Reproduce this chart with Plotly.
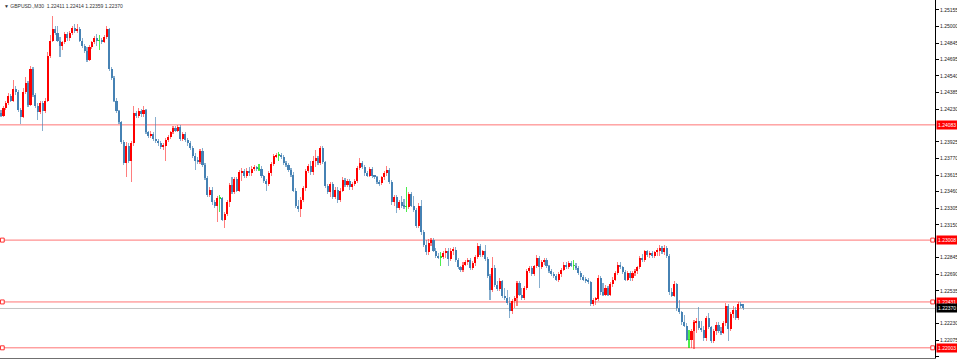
import plotly.graph_objects as go

# ---- data (GBPUSD M30 candles) ----
opens = [
    1.2419, 1.2417, 1.2424, 1.2429, 1.2435, 1.2431, 1.2442, 1.2439, 1.2422, 1.2416,
    1.2439, 1.2447, 1.2427, 1.2460, 1.2436, 1.2426, 1.2420, 1.2429, 1.2421, 1.2431,
    1.2473, 1.2487, 1.2498, 1.2494, 1.2487, 1.2482, 1.2486, 1.2493, 1.2489, 1.2494,
    1.2499, 1.2496, 1.2498, 1.2487, 1.2482, 1.2477, 1.2469, 1.2481, 1.2486, 1.2489,
    1.2487, 1.2487, 1.2486, 1.2490, 1.2498, 1.2460, 1.2452, 1.2431, 1.2421, 1.2411,
    1.2392, 1.2373, 1.2389, 1.2375, 1.2391, 1.2419, 1.2417, 1.2421, 1.2418, 1.2422,
    1.2402, 1.2398, 1.2400, 1.2395, 1.2393, 1.2391, 1.2388, 1.2389, 1.2394, 1.2397,
    1.2402, 1.2405, 1.2403, 1.2406, 1.2395, 1.2400, 1.2394, 1.2391, 1.2387, 1.2379,
    1.2375, 1.2374, 1.2384, 1.2371, 1.2359, 1.2343, 1.2348, 1.2336, 1.2333, 1.2340,
    1.2340, 1.2320, 1.2325, 1.2336, 1.2352, 1.2346, 1.2358, 1.2347, 1.2364, 1.2365,
    1.2361, 1.2365, 1.2363, 1.2367, 1.2369, 1.2367, 1.2367, 1.2361, 1.2356, 1.2353,
    1.2363, 1.2372, 1.2379, 1.2380, 1.2380, 1.2378, 1.2373, 1.2371, 1.2366, 1.2362,
    1.2347, 1.2333, 1.2330, 1.2338, 1.2349, 1.2365, 1.2370, 1.2364, 1.2375, 1.2377,
    1.2373, 1.2387, 1.2374, 1.2351, 1.2346, 1.2353, 1.2341, 1.2348, 1.2338, 1.2347,
    1.2357, 1.2352, 1.2356, 1.2350, 1.2353, 1.2356, 1.2368, 1.2373, 1.2369, 1.2363,
    1.2361, 1.2367, 1.2361, 1.2360, 1.2355, 1.2354, 1.2360, 1.2363, 1.2366, 1.2355,
    1.2336, 1.2341, 1.2331, 1.2336, 1.2333, 1.2332, 1.2332, 1.2344, 1.2333, 1.2329,
    1.2314, 1.2333, 1.2308, 1.2296, 1.2290, 1.2298, 1.2301, 1.2291, 1.2286, 1.2285,
    1.2285, 1.2289, 1.2291, 1.2283, 1.2291, 1.2292, 1.2282, 1.2276, 1.2273, 1.2278,
    1.2280, 1.2282, 1.2275, 1.2279, 1.2285, 1.2295, 1.2287, 1.2291, 1.2283, 1.2267,
    1.2254, 1.2275, 1.2259, 1.2255, 1.2263, 1.2249, 1.2247, 1.2242, 1.2235, 1.2244,
    1.2247, 1.2261, 1.2250, 1.2247, 1.2256, 1.2272, 1.2275, 1.2269, 1.2277, 1.2284,
    1.2276, 1.2280, 1.2282, 1.2277, 1.2272, 1.2269, 1.2267, 1.2264, 1.2269, 1.2273,
    1.2278, 1.2276, 1.2279, 1.2277, 1.2277, 1.2275, 1.2270, 1.2266, 1.2264, 1.2263,
    1.2262, 1.2241, 1.2245, 1.2246, 1.2265, 1.2252, 1.2250, 1.2256, 1.2250, 1.2260,
    1.2264, 1.2270, 1.2278, 1.2276, 1.2271, 1.2264, 1.2270, 1.2265, 1.2270, 1.2272,
    1.2276, 1.2284, 1.2282, 1.2291, 1.2287, 1.2289, 1.2286, 1.2290, 1.2291, 1.2293,
    1.2290, 1.2293, 1.2286, 1.2252, 1.2249, 1.2260, 1.2237, 1.2234, 1.2224, 1.2221,
    1.2208, 1.2208, 1.2216, 1.2224, 1.2225, 1.2219, 1.2217, 1.2209, 1.2228, 1.2220,
    1.2207, 1.2216, 1.2222, 1.2216, 1.2214, 1.2223, 1.2239, 1.2218, 1.2232, 1.2236,
    1.2228, 1.2241, 1.22411,
]
highs = [
    1.2422, 1.2426, 1.2431, 1.2438, 1.2437, 1.2450, 1.2445, 1.2441, 1.2424, 1.2443,
    1.2453, 1.2449, 1.2463, 1.2462, 1.2438, 1.2429, 1.2431, 1.2431, 1.2433, 1.2476,
    1.2492, 1.2510, 1.2501, 1.2501, 1.2490, 1.2487, 1.2495, 1.2495, 1.2496, 1.2501,
    1.2502, 1.2502, 1.2500, 1.2489, 1.2484, 1.2481, 1.2483, 1.2487, 1.2491, 1.2493,
    1.2492, 1.2489, 1.2492, 1.2501, 1.2499, 1.2462, 1.2454, 1.2433, 1.2422, 1.2412,
    1.2394, 1.2392, 1.2391, 1.2393, 1.2426, 1.2421, 1.2424, 1.2423, 1.2426, 1.2423,
    1.2403, 1.2403, 1.2402, 1.2416, 1.2395, 1.2393, 1.2391, 1.2396, 1.2399, 1.2403,
    1.2407, 1.2407, 1.2408, 1.2408, 1.2402, 1.2402, 1.2396, 1.2393, 1.2389, 1.2382,
    1.2378, 1.2386, 1.2387, 1.2373, 1.2361, 1.2350, 1.2350, 1.2338, 1.2342, 1.2343,
    1.2341, 1.2327, 1.2338, 1.2354, 1.2360, 1.2360, 1.2360, 1.2366, 1.2368, 1.2367,
    1.2368, 1.2369, 1.2370, 1.2371, 1.2370, 1.2372, 1.2370, 1.2362, 1.2358, 1.2365,
    1.2374, 1.2381, 1.2382, 1.2383, 1.2382, 1.2380, 1.2375, 1.2373, 1.2368, 1.2364,
    1.2349, 1.2338, 1.2341, 1.2351, 1.2367, 1.2372, 1.2375, 1.2379, 1.2385, 1.2379,
    1.2389, 1.2389, 1.2375, 1.2353, 1.2355, 1.2355, 1.2350, 1.2350, 1.2349, 1.2360,
    1.2359, 1.2358, 1.2358, 1.2355, 1.2358, 1.2370, 1.2377, 1.2375, 1.2371, 1.2365,
    1.2369, 1.2369, 1.2362, 1.2361, 1.2357, 1.2361, 1.2365, 1.2370, 1.2368, 1.2357,
    1.2343, 1.2343, 1.2338, 1.2342, 1.2339, 1.2350, 1.2346, 1.2346, 1.2342, 1.2331,
    1.2335, 1.2338, 1.2310, 1.2301, 1.2302, 1.2303, 1.2303, 1.2293, 1.2289, 1.2290,
    1.2291, 1.2293, 1.2293, 1.2293, 1.2294, 1.2294, 1.2284, 1.2277, 1.2280, 1.2282,
    1.2284, 1.2284, 1.2281, 1.2287, 1.2298, 1.2297, 1.2292, 1.2296, 1.2285, 1.2269,
    1.2285, 1.2278, 1.2263, 1.2265, 1.2264, 1.2256, 1.2254, 1.2248, 1.2246, 1.2249,
    1.2263, 1.2263, 1.2256, 1.2258, 1.2274, 1.2277, 1.2277, 1.2278, 1.2287, 1.2286,
    1.2282, 1.2284, 1.2284, 1.2278, 1.2274, 1.2271, 1.2269, 1.2271, 1.2275, 1.2280,
    1.2280, 1.2281, 1.2281, 1.2282, 1.2279, 1.2277, 1.2272, 1.2268, 1.2266, 1.2265,
    1.2263, 1.2247, 1.2248, 1.2268, 1.2267, 1.2261, 1.2259, 1.2258, 1.2262, 1.2266,
    1.2272, 1.2280, 1.2280, 1.2277, 1.2273, 1.2272, 1.2272, 1.2272, 1.2274, 1.2277,
    1.2286, 1.2288, 1.2292, 1.2292, 1.2291, 1.2291, 1.2291, 1.2293, 1.2296, 1.2295,
    1.2296, 1.2295, 1.2288, 1.2256, 1.2263, 1.2261, 1.2245, 1.2235, 1.2231, 1.2223,
    1.2217, 1.2218, 1.2226, 1.2228, 1.2238, 1.2225, 1.2221, 1.2230, 1.2233, 1.2221,
    1.2218, 1.2224, 1.2224, 1.2220, 1.2225, 1.2242, 1.2241, 1.2234, 1.2239, 1.2238,
    1.2243, 1.2243, 1.22414,
]
lows = [
    1.2416, 1.2416, 1.2422, 1.2427, 1.2430, 1.2430, 1.2436, 1.2420, 1.2409, 1.2415,
    1.2437, 1.2425, 1.2426, 1.2434, 1.2424, 1.2413, 1.2418, 1.2403, 1.2419, 1.2430,
    1.2471, 1.2486, 1.2492, 1.2486, 1.2472, 1.2478, 1.2484, 1.2487, 1.2487, 1.2492,
    1.2494, 1.2494, 1.2486, 1.2480, 1.2475, 1.2467, 1.2468, 1.2479, 1.2484, 1.2482,
    1.2478, 1.2484, 1.2485, 1.2488, 1.2459, 1.2450, 1.2430, 1.2419, 1.2409, 1.2390,
    1.2371, 1.2360, 1.2373, 1.2355, 1.2389, 1.2415, 1.2415, 1.2416, 1.2416, 1.2400,
    1.2396, 1.2396, 1.2393, 1.2391, 1.2389, 1.2386, 1.2385, 1.2375, 1.2392, 1.2395,
    1.2400, 1.2402, 1.2402, 1.2393, 1.2393, 1.2392, 1.2389, 1.2385, 1.2377, 1.2366,
    1.2372, 1.2372, 1.2369, 1.2357, 1.2341, 1.2341, 1.2334, 1.2331, 1.2318, 1.2327,
    1.2319, 1.2312, 1.2323, 1.2332, 1.2344, 1.2344, 1.2346, 1.2346, 1.2356, 1.2359,
    1.2359, 1.2361, 1.2361, 1.2365, 1.2365, 1.2365, 1.2359, 1.2354, 1.2347, 1.2351,
    1.2361, 1.2370, 1.2377, 1.2375, 1.2376, 1.2371, 1.2369, 1.2364, 1.2360, 1.2346,
    1.2331, 1.2327, 1.2322, 1.2336, 1.2347, 1.2363, 1.2362, 1.2362, 1.2369, 1.2371,
    1.2371, 1.2372, 1.2349, 1.2344, 1.2341, 1.2339, 1.2339, 1.2335, 1.2336, 1.2346,
    1.2350, 1.2350, 1.2348, 1.2348, 1.2351, 1.2354, 1.2366, 1.2367, 1.2361, 1.2360,
    1.2360, 1.2359, 1.2358, 1.2353, 1.2351, 1.2352, 1.2357, 1.2361, 1.2353, 1.2334,
    1.2333, 1.2326, 1.2329, 1.2331, 1.2330, 1.2327, 1.2330, 1.2332, 1.2327, 1.2312,
    1.2312, 1.2306, 1.2294, 1.2287, 1.2287, 1.2295, 1.2290, 1.2284, 1.2283, 1.2277,
    1.2283, 1.2284, 1.2277, 1.2281, 1.2287, 1.2280, 1.2274, 1.2271, 1.2271, 1.2277,
    1.2278, 1.2273, 1.2273, 1.2277, 1.2283, 1.2285, 1.2285, 1.2281, 1.2265, 1.2245,
    1.2252, 1.2257, 1.2253, 1.2253, 1.2247, 1.2245, 1.2240, 1.2228, 1.2232, 1.2237,
    1.2239, 1.2249, 1.2245, 1.2245, 1.2254, 1.2270, 1.2267, 1.2267, 1.2275, 1.2256,
    1.2274, 1.2278, 1.2275, 1.2270, 1.2267, 1.2265, 1.2263, 1.2262, 1.2266, 1.2272,
    1.2274, 1.2274, 1.2276, 1.2273, 1.2273, 1.2268, 1.2264, 1.2263, 1.2261, 1.2260,
    1.2239, 1.2239, 1.2240, 1.2244, 1.2250, 1.2249, 1.2249, 1.2249, 1.2249, 1.2257,
    1.2263, 1.2268, 1.2274, 1.2269, 1.2263, 1.2263, 1.2263, 1.2263, 1.2267, 1.2269,
    1.2274, 1.2280, 1.2280, 1.2285, 1.2284, 1.2284, 1.2284, 1.2286, 1.2286, 1.2288,
    1.2287, 1.2284, 1.2250, 1.2248, 1.2248, 1.2235, 1.2232, 1.2222, 1.2220, 1.2207,
    1.2200, 1.2200, 1.2199, 1.2214, 1.2217, 1.2215, 1.2207, 1.2207, 1.2218, 1.2205,
    1.2205, 1.2212, 1.2214, 1.2212, 1.2213, 1.2221, 1.2207, 1.2216, 1.2228, 1.2226,
    1.2226, 1.2237, 1.22359,
]
closes = [
    1.2417, 1.2424, 1.2429, 1.2435, 1.2431, 1.2442, 1.2439, 1.2422, 1.2416, 1.2439,
    1.2447, 1.2427, 1.2460, 1.2436, 1.2426, 1.2420, 1.2429, 1.2421, 1.2431, 1.2473,
    1.2487, 1.2498, 1.2494, 1.2487, 1.2482, 1.2486, 1.2493, 1.2489, 1.2494, 1.2499,
    1.2496, 1.2498, 1.2487, 1.2482, 1.2477, 1.2469, 1.2481, 1.2486, 1.2489, 1.2487,
    1.2487, 1.2486, 1.2490, 1.2498, 1.2460, 1.2452, 1.2431, 1.2421, 1.2411, 1.2392,
    1.2373, 1.2389, 1.2375, 1.2391, 1.2419, 1.2417, 1.2421, 1.2418, 1.2422, 1.2402,
    1.2398, 1.2400, 1.2395, 1.2393, 1.2391, 1.2388, 1.2389, 1.2394, 1.2397, 1.2402,
    1.2405, 1.2403, 1.2406, 1.2395, 1.2400, 1.2394, 1.2391, 1.2387, 1.2379, 1.2375,
    1.2374, 1.2384, 1.2371, 1.2359, 1.2343, 1.2348, 1.2336, 1.2333, 1.2340, 1.2340,
    1.2320, 1.2325, 1.2336, 1.2352, 1.2346, 1.2358, 1.2347, 1.2364, 1.2365, 1.2361,
    1.2365, 1.2363, 1.2367, 1.2369, 1.2367, 1.2367, 1.2361, 1.2356, 1.2353, 1.2363,
    1.2372, 1.2379, 1.2380, 1.2380, 1.2378, 1.2373, 1.2371, 1.2366, 1.2362, 1.2347,
    1.2333, 1.2330, 1.2338, 1.2349, 1.2365, 1.2370, 1.2364, 1.2375, 1.2377, 1.2373,
    1.2387, 1.2374, 1.2351, 1.2346, 1.2353, 1.2341, 1.2348, 1.2338, 1.2347, 1.2357,
    1.2352, 1.2356, 1.2350, 1.2353, 1.2356, 1.2368, 1.2373, 1.2369, 1.2363, 1.2361,
    1.2367, 1.2361, 1.2360, 1.2355, 1.2354, 1.2360, 1.2363, 1.2366, 1.2355, 1.2336,
    1.2341, 1.2331, 1.2336, 1.2333, 1.2332, 1.2332, 1.2344, 1.2333, 1.2329, 1.2314,
    1.2333, 1.2308, 1.2296, 1.2290, 1.2298, 1.2301, 1.2291, 1.2286, 1.2285, 1.2285,
    1.2289, 1.2291, 1.2283, 1.2291, 1.2292, 1.2282, 1.2276, 1.2273, 1.2278, 1.2280,
    1.2282, 1.2275, 1.2279, 1.2285, 1.2295, 1.2287, 1.2291, 1.2283, 1.2267, 1.2254,
    1.2275, 1.2259, 1.2255, 1.2263, 1.2249, 1.2247, 1.2242, 1.2235, 1.2244, 1.2247,
    1.2261, 1.2250, 1.2247, 1.2256, 1.2272, 1.2275, 1.2269, 1.2277, 1.2284, 1.2276,
    1.2280, 1.2282, 1.2277, 1.2272, 1.2269, 1.2267, 1.2264, 1.2269, 1.2273, 1.2278,
    1.2276, 1.2279, 1.2277, 1.2277, 1.2275, 1.2270, 1.2266, 1.2264, 1.2263, 1.2262,
    1.2241, 1.2245, 1.2246, 1.2265, 1.2252, 1.2250, 1.2256, 1.2250, 1.2260, 1.2264,
    1.2270, 1.2278, 1.2276, 1.2271, 1.2264, 1.2270, 1.2265, 1.2270, 1.2272, 1.2276,
    1.2284, 1.2282, 1.2291, 1.2287, 1.2289, 1.2286, 1.2290, 1.2291, 1.2293, 1.2290,
    1.2293, 1.2286, 1.2252, 1.2249, 1.2260, 1.2237, 1.2234, 1.2224, 1.2221, 1.2208,
    1.2208, 1.2216, 1.2224, 1.2225, 1.2219, 1.2217, 1.2209, 1.2228, 1.2220, 1.2207,
    1.2216, 1.2222, 1.2216, 1.2214, 1.2223, 1.2239, 1.2218, 1.2232, 1.2236, 1.2228,
    1.2241, 1.2239, 1.22370,
]
levels = [1.24083, 1.23008, 1.22431, 1.22003]
bid = 1.22370
tick_vals = [1.25155, 1.25000, 1.24845, 1.24695, 1.24540, 1.24385, 1.24230,
             1.23925, 1.23770, 1.23615, 1.23460, 1.23305, 1.23150, 1.22845,
             1.22690, 1.22535, 1.22230, 1.22075, 1.21920]
header = "▼ GBPUSD.,M30  1.22411 1.22414 1.22359 1.22370"

# ---- styling ----
UP, DN, DJ = "#FF0000", "#4682B4", "#2EE02E"
UPW, DNW, DJW = "rgba(255,40,40,0.6)", "rgba(70,130,180,0.65)", "rgba(0,230,0,0.7)"
FONT = "Liberation Sans"

n = len(closes)
xs = list(range(n))
body_base, body_h, body_col, wick_col = [], [], [], []
for o, c in zip(opens, closes):
    body_base.append(min(o, c))
    body_h.append(max(abs(c - o), 0.00004))
    if c > o:
        body_col.append(UP); wick_col.append(UPW)
    elif c < o:
        body_col.append(DN); wick_col.append(DNW)
    else:
        body_col.append(DJ); wick_col.append(DJW)
wick_h = [h - l for h, l in zip(highs, lows)]

fig = go.Figure()
fig.add_trace(go.Bar(x=xs, y=wick_h, base=lows, width=0.45,
                     marker=dict(color=wick_col, line=dict(width=0)),
                     hoverinfo="skip"))
fig.add_trace(go.Bar(x=xs, y=body_h, base=body_base, width=0.84,
                     marker=dict(color=body_col, line=dict(width=0)),
                     hoverinfo="skip"))

for lv in levels:
    fig.add_hline(y=lv, line=dict(color="rgba(255,0,0,0.55)", width=1), layer="below")
fig.add_hline(y=bid, line=dict(color="#C4C4C4", width=1), layer="below")

# small anchor squares at the ends of the level lines
px_price = (1.25248 - 1.21908) / 358
for lv in levels[1:]:
    for x0, x1 in [(0.0005, 0.0045), (0.9955, 0.9995)]:
        fig.add_shape(type="rect", xref="paper", yref="y", x0=x0, x1=x1,
                      y0=lv - 2 * px_price, y1=lv + 2 * px_price,
                      line=dict(color="rgba(255,0,0,0.8)", width=1),
                      fillcolor="white", layer="above")

for lv in levels:
    fig.add_annotation(x=1, xref="paper", xanchor="left", xshift=1, y=lv, yref="y",
                       text=f"{lv:.5f}", showarrow=False, bgcolor="#FF0000",
                       font=dict(color="white", size=5, family=FONT), borderpad=1)
fig.add_annotation(x=1, xref="paper", xanchor="left", xshift=1, y=bid, yref="y",
                   text=f"{bid:.5f}", showarrow=False, bgcolor="#000000",
                   font=dict(color="white", size=5, family=FONT), borderpad=1)

fig.add_annotation(x=0, y=1, xref="paper", yref="paper", xanchor="left", yanchor="top",
                   xshift=2, yshift=-1, text=header, showarrow=False,
                   font=dict(color="#333333", size=5, family=FONT))

fig.update_layout(
    width=957, height=359,
    margin=dict(l=0, r=22, t=0, b=1),
    plot_bgcolor="white", paper_bgcolor="white",
    barmode="overlay", showlegend=False, bargap=0,
)
fig.update_xaxes(range=[-0.41, 380.1], showticklabels=False, showgrid=False,
                 zeroline=False, showline=True, linecolor="#707070", linewidth=1,
                 ticks="", automargin=False, fixedrange=True)
fig.update_yaxes(side="right", range=[1.21908, 1.25248], tickvals=tick_vals,
                 ticktext=[f"{v:.5f}" for v in tick_vals], showgrid=False,
                 zeroline=False, showline=True, linecolor="black", linewidth=1,
                 ticks="outside", ticklen=3, tickcolor="black", tickwidth=1,
                 tickfont=dict(family=FONT, size=5, color="#222222"),
                 automargin=False, fixedrange=True)

fig.write_html("out.html", config={"displayModeBar": False},
               post_script="document.body.style.margin='0px';")
